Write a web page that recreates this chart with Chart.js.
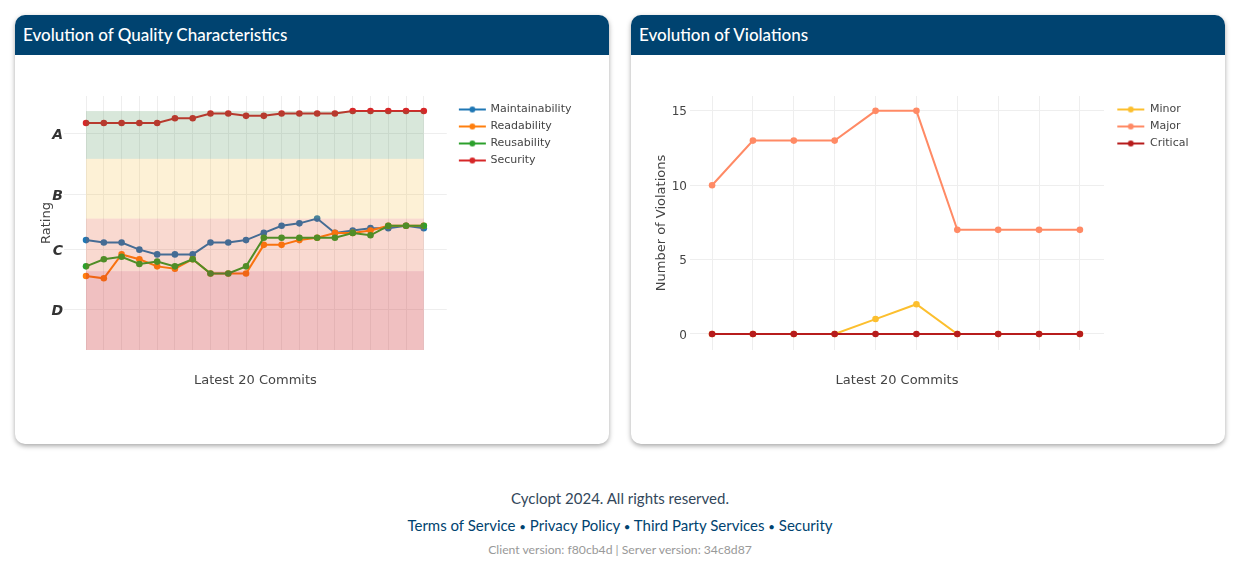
<!DOCTYPE html>
<html>
<head>
    <title>Evolution</title>
    <script src="https://cdn.jsdelivr.net/npm/chart.js"></script>
    <style>
        html, body { margin: 0; padding: 0; background: #fff; font-family: Lato, sans-serif; }
        body { width: 1244px; height: 562px; overflow: hidden; position: relative; }
        .card { position: absolute; top: 15px; width: 594px; height: 429px; background: #fff; border-radius: 10px; box-shadow: 0 2px 5px rgba(0,0,0,.35); overflow: hidden; }
        .card h2 { margin: 0; height: 40px; line-height: 40px; padding-left: 8px; background: #004370; color: #fff; font-size: 17px; font-weight: 500; }
        canvas { display: block; }
        .footer { position: absolute; left: 0; width: 1240px; text-align: center; }
        .footer span { font-size: 11.5px; }
    </style>
</head>
<body>
    <div class="card" style="left:15px"><h2>Evolution of Quality Characteristics</h2><canvas id="qualityChart" width="594" height="389"></canvas></div>
    <div class="card" style="left:631px"><h2>Evolution of Violations</h2><canvas id="violationsChart" width="594" height="389"></canvas></div>
    <div class="footer" style="top:489px;font-size:15px;color:#33475b">Cyclopt 2024. All rights reserved.</div>
    <div class="footer" style="top:516px;font-size:15px;color:#004370">Terms of Service <span>&bull;</span> Privacy Policy <span>&bull;</span> Third Party Services <span>&bull;</span> Security</div>
    <div class="footer" style="top:542px;font-size:12.2px;color:#999">Client version: f80cb4d | Server version: 34c8d87</div>

    <script>
        // data
        const qualityCommits = [0,1,2,3,4,5,6,7,8,9,10,11,12,13,14,15,16,17,18,19];
        const maintainability = [46,45,45,42,40,40,40,45,45,46,49,52,53,55,49,50,51,51,52,51];
        const readability = [31,30,40,38,35,34,38,32,32,32,44,44,46,47,49,49,50,52,52,52];
        const reusability = [35,38,39,36,37,35,38,32,32,35,47,47,47,47,47,49,48,52,52,52];
        const security = [95,95,95,95,95,97,97,99,99,98,98,99,99,99,99,100,100,100,100,100];

        const ratingTicks = [90.4,65,42,17];
        const ratingLabels = ['A','B','C','D'];
        const bandEdges = [100,80,55,33,0];
        const bandColors = ['rgba(60,135,70,.2)','rgba(245,185,50,.2)','rgba(225,65,20,.2)','rgba(205,38,42,.29)'];

        const violationCommits = [0,1,2,3,4,5,6,7,8,9];
        const violationTicks = [0,5,10,15];
        const minor = [0,0,0,0,1,2,0,0,0,0];
        const major = [10,13,13,13,15,15,7,7,7,7];
        const critical = [0,0,0,0,0,0,0,0,0,0];

        const textColor = '#444';
        const gridColor = '#eee';
        const axisFont = { family: 'DejaVu Sans', size: 13 };

        // legend sample, line with a dot
        function legendSample(color) {
            const c = document.createElement('canvas');
            c.width = 36;
            c.height = 8;
            const g = c.getContext('2d');
            g.strokeStyle = color;
            g.lineWidth = 2;
            g.beginPath();
            g.moveTo(8, 4);
            g.lineTo(35, 4);
            g.stroke();
            g.fillStyle = color;
            g.beginPath();
            g.arc(21.5, 4, 3, 0, Math.PI * 2);
            g.fill();
            return c;
        }

        function series(label, data, color, i) {
            return { label, data, borderColor: color, backgroundColor: color, borderWidth: 2, pointRadius: 3.3, pointBorderWidth: 0, tension: 0, order: -i };
        }

        function legendOptions(sampleWidth) {
            return {
                position: 'right',
                align: 'start',
                labels: {
                    usePointStyle: true,
                    pointStyleWidth: sampleWidth,
                    padding: 6,
                    color: textColor,
                    font: { family: 'DejaVu Sans', size: 11 },
                    generateLabels: chart => chart.data.datasets.map((d, i) => ({
                        text: d.label, datasetIndex: i, pointStyle: legendSample(d.borderColor), fontColor: textColor, lineWidth: 0
                    }))
                }
            };
        }

        function xAxis(commits, min, max) {
            return {
                type: 'linear', min, max,
                grid: { color: gridColor, drawTicks: false, tickLength: 0 },
                border: { display: false },
                afterBuildTicks: scale => { scale.ticks = commits.map(value => ({ value })); },
                ticks: { display: false },
                title: { display: true, text: 'Latest 20 Commits', color: textColor, font: axisFont, padding: 0 },
                afterFit: scale => { scale.height = 38; }
            };
        }

        // legend sits a little lower than the layout puts it
        const legendShift = {
            id: 'legendShift',
            afterLayout(chart) { chart.legend.top += 2; }
        };

        // rating bands lie over the lines
        const ratingBands = {
            id: 'ratingBands',
            afterDatasetsDraw(chart) {
                const { ctx, scales: { x, y } } = chart;
                const left = x.getPixelForValue(qualityCommits[0]);
                const right = x.getPixelForValue(qualityCommits[qualityCommits.length - 1]);
                bandColors.forEach((color, i) => {
                    const top = y.getPixelForValue(bandEdges[i]);
                    const bottom = y.getPixelForValue(bandEdges[i + 1]);
                    ctx.fillStyle = color;
                    ctx.fillRect(left, top, right - left, bottom - top);
                });
            }
        };

        new Chart(document.getElementById('qualityChart'), {
            type: 'line',
            data: {
                labels: qualityCommits,
                datasets: [
                    series('Maintainability', maintainability, '#1f77b4', 0),
                    series('Readability', readability, '#ff7f0e', 1),
                    series('Reusability', reusability, '#2ca02c', 2),
                    series('Security', security, '#d62728', 3)
                ]
            },
            plugins: [ratingBands, legendShift],
            options: {
                responsive: false,
                animation: false,
                layout: { padding: { left: 24, top: 41, right: 27.5, bottom: 56 } },
                plugins: { legend: legendOptions(32.2) },
                scales: {
                    x: xAxis(qualityCommits, -1.24, 20.29),
                    y: {
                        min: 0, max: 106.3,
                        grid: { color: gridColor, drawTicks: false, tickLength: 0 },
                        border: { display: false },
                        afterBuildTicks: scale => { scale.ticks = ratingTicks.map(value => ({ value })); },
                        ticks: {
                            padding: 1,
                            labelOffset: 1.5,
                            color: '#333',
                            font: { family: 'DejaVu Sans', size: 14, weight: 'bold', style: 'italic' },
                            callback: value => ratingLabels[ratingTicks.indexOf(value)]
                        },
                        title: { display: true, text: 'Rating', color: textColor, font: axisFont, padding: 0 },
                        afterFit: scale => { scale.width = 25; }
                    }
                }
            }
        });

        new Chart(document.getElementById('violationsChart'), {
            type: 'line',
            data: {
                labels: violationCommits,
                datasets: [
                    series('Minor', minor, '#fcbf2e', 0),
                    series('Major', major, '#ff8a65', 1),
                    series('Critical', critical, '#b71c1c', 2)
                ]
            },
            plugins: [legendShift],
            options: {
                responsive: false,
                animation: false,
                layout: { padding: { left: 23, top: 41, right: 26.5, bottom: 56 } },
                plugins: { legend: legendOptions(34.5) },
                scales: {
                    x: xAxis(violationCommits, -0.54, 9.59),
                    y: {
                        min: -1.08, max: 16,
                        grid: { color: gridColor, drawTicks: false, tickLength: 0 },
                        border: { display: false },
                        afterBuildTicks: scale => { scale.ticks = violationTicks.map(value => ({ value })); },
                        ticks: { padding: 3, labelOffset: 1.5, color: textColor, font: { family: 'DejaVu Sans', size: 12 } },
                        title: { display: true, text: 'Number of Violations', color: textColor, font: axisFont, padding: 0 },
                        afterFit: scale => { scale.width = 36; }
                    }
                }
            }
        });
    </script>
</body>
</html>
